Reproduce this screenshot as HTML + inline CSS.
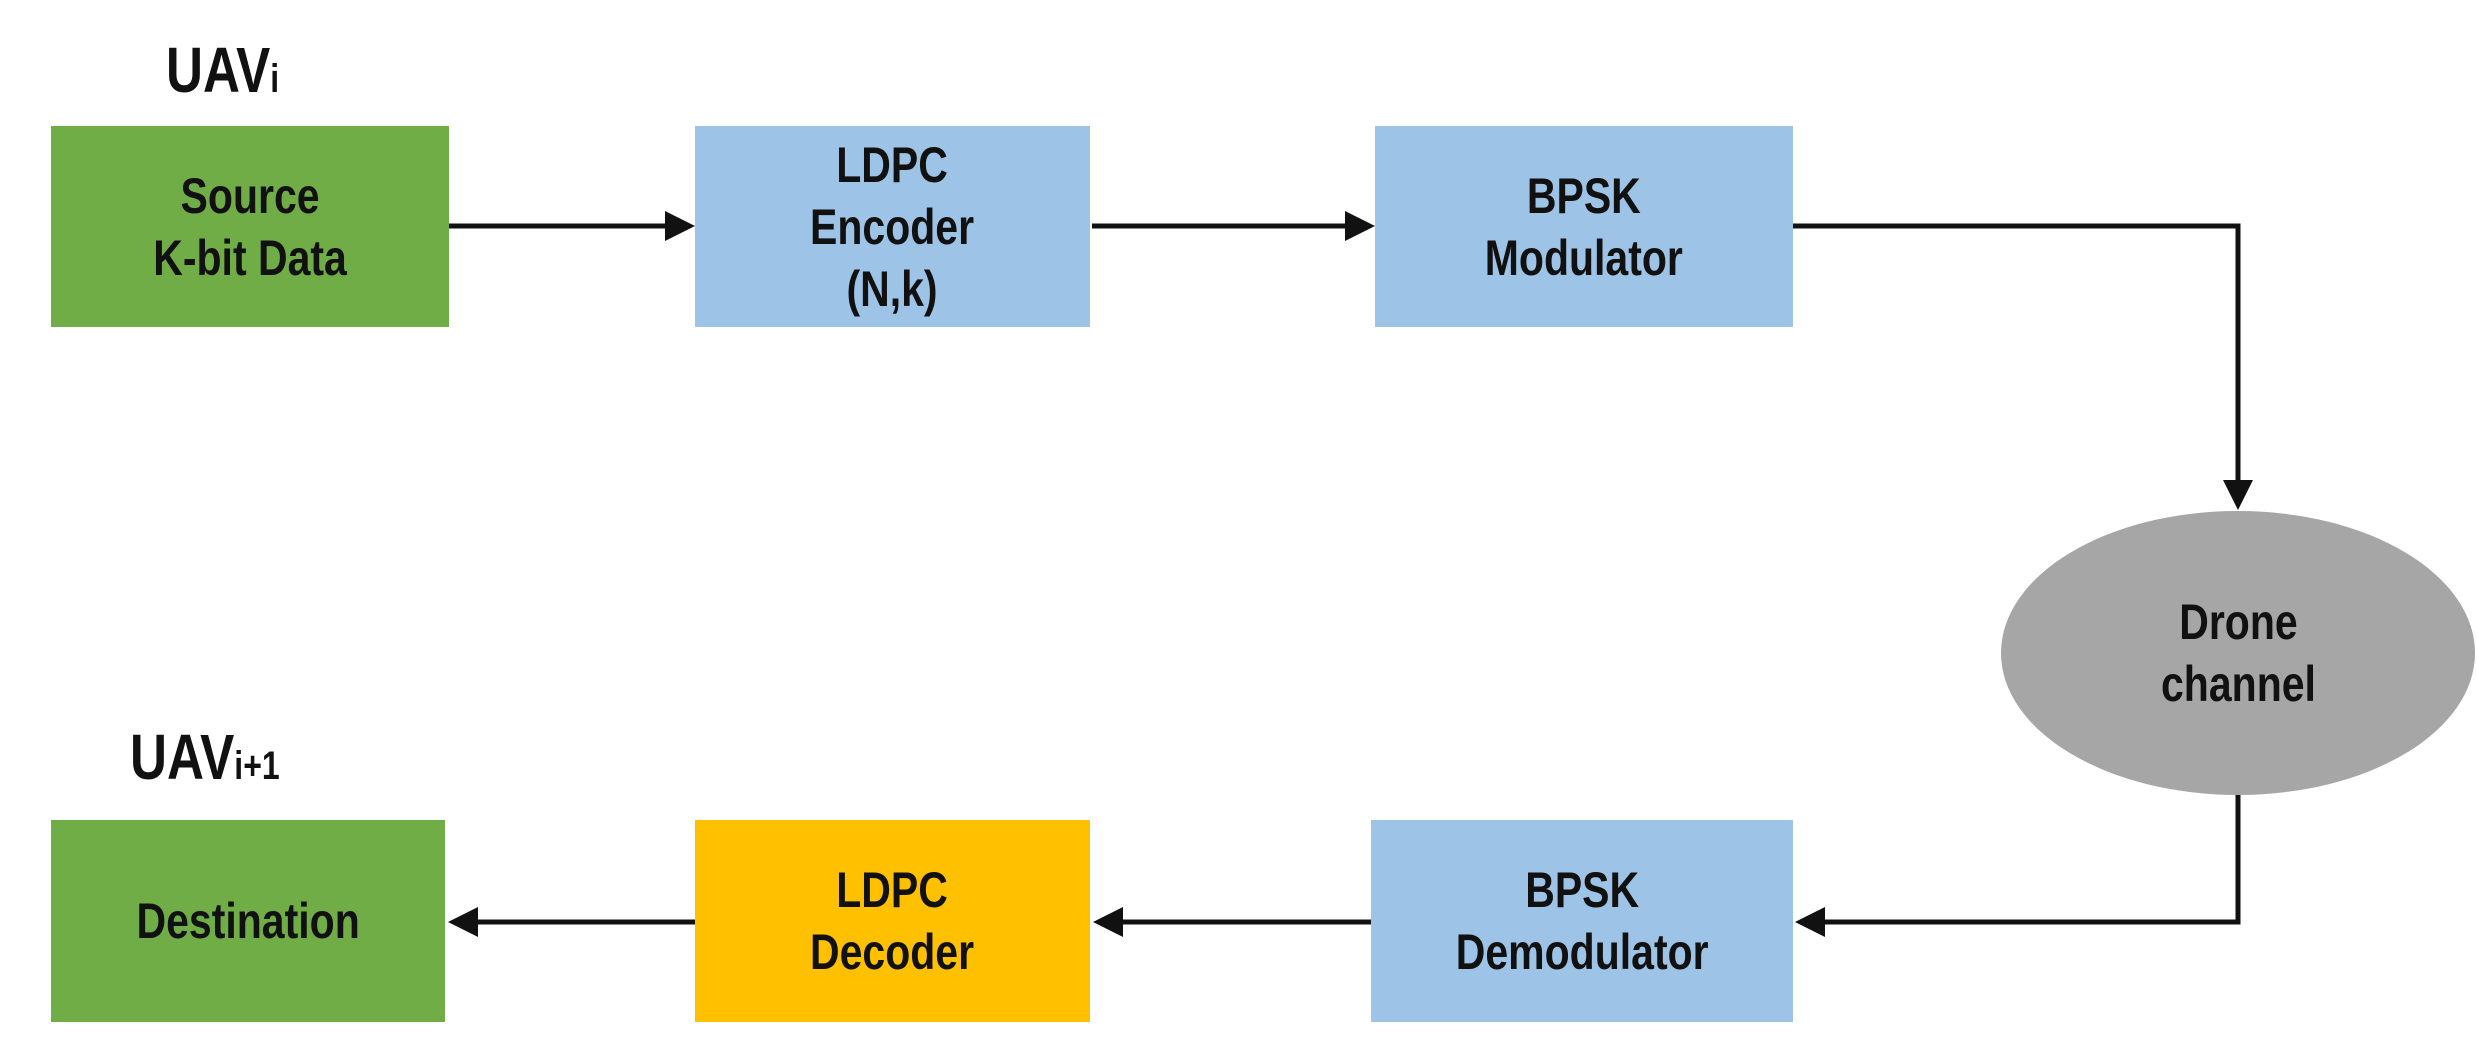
<!DOCTYPE html>
<html><head><meta charset="utf-8"><style>
html,body{margin:0;padding:0;background:#fff;}
body{width:2477px;height:1052px;position:relative;overflow:hidden;font-family:"Liberation Sans",sans-serif;font-weight:bold;color:#111;}
.b{position:absolute;display:flex;align-items:center;justify-content:center;text-align:center;}
.t{display:inline-block;transform:scaleX(0.82);font-size:50px;line-height:62px;white-space:nowrap;}
.lbl{position:absolute;font-size:64px;transform:scaleX(0.8);transform-origin:left top;white-space:nowrap;}
.lbl sub{font-size:40px;vertical-align:baseline;}
svg{position:absolute;left:0;top:0;}
</style></head><body>
<svg width="2477" height="1052">
<defs><marker id="a" markerWidth="6" markerHeight="6" refX="5" refY="3" orient="auto" markerUnits="strokeWidth"><path d="M0,0 L6,3 L0,6 z" fill="#111"/></marker></defs>
<g stroke="#111" stroke-width="5" fill="none">
<line x1="449" y1="226" x2="690" y2="226" marker-end="url(#a)"/>
<line x1="1092" y1="226" x2="1370" y2="226" marker-end="url(#a)"/>
<polyline points="1793,226 2238,226 2238,505" marker-end="url(#a)"/>
<polyline points="2238,790 2238,922 1800,922" marker-end="url(#a)"/>
<line x1="1371" y1="922" x2="1098" y2="922" marker-end="url(#a)"/>
<line x1="695" y1="922" x2="453" y2="922" marker-end="url(#a)"/>
</g>
<ellipse cx="2238" cy="653" rx="237" ry="142" fill="#a6a6a6"/>
</svg>
<div class="lbl" style="left:166px;top:33px;">UAV<sub>i</sub></div>
<div class="lbl" style="left:130px;top:720px;">UAV<sub>i+1</sub></div>
<div class="b" style="left:51px;top:126px;width:398px;height:201px;background:#70ad47;"><span class="t">Source<br>K-bit Data</span></div>
<div class="b" style="left:695px;top:126px;width:395px;height:201px;background:#9dc3e6;"><span class="t">LDPC<br>Encoder<br>(N,k)</span></div>
<div class="b" style="left:1375px;top:126px;width:418px;height:201px;background:#9dc3e6;"><span class="t">BPSK<br>Modulator</span></div>
<div class="b" style="left:2001px;top:511px;width:474px;height:284px;"><span class="t">Drone<br>channel</span></div>
<div class="b" style="left:51px;top:820px;width:394px;height:202px;background:#70ad47;"><span class="t">Destination</span></div>
<div class="b" style="left:695px;top:820px;width:395px;height:202px;background:#ffc000;"><span class="t">LDPC<br>Decoder</span></div>
<div class="b" style="left:1371px;top:820px;width:422px;height:202px;background:#9dc3e6;"><span class="t">BPSK<br>Demodulator</span></div>
</body></html>
